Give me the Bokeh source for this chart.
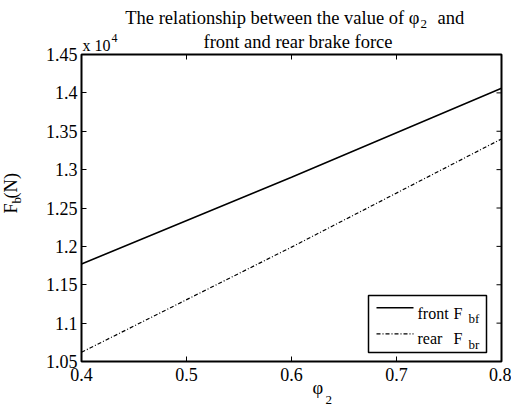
import math
from bokeh.plotting import figure
from bokeh.models import (FixedTicker, Label, BoxAnnotation, Arrow)
from bokeh.embed import file_html
from bokeh.resources import INLINE

# ---- data ----
phi2 = [0.4, 0.6, 0.8]
front_Fbf = [11770, 12900, 14060]
rear_Fbr = [10620, 11990, 13400]

x_ticks = [0.4, 0.5, 0.6, 0.7, 0.8]
y_ticks = [10500, 11000, 11500, 12000, 12500, 13000, 13500, 14000, 14500]
y_tick_labels = ["1.05", "1.1", "1.15", "1.2", "1.25", "1.3", "1.35", "1.4", "1.45"]

FONT = "Liberation Serif"
TICK_FS = "18px"
FS = "18.5px"
SUB = "13px"
X0, X1 = 0.4, 0.8
Y0, Y1 = 10500, 14500

p = figure(frame_width=420, frame_height=307,
           x_range=(X0, X1), y_range=(Y0, Y1),
           output_backend="svg", toolbar_location=None,
           min_border_left=81, min_border_right=10,
           min_border_top=54, min_border_bottom=51)
p.background_fill_color = "white"
p.border_fill_color = "white"
p.xgrid.visible = False
p.ygrid.visible = False
p.outline_line_color = "black"
p.outline_line_width = 2
p.outline_line_alpha = 1

bottom_ax = p.below[0]
left_ax = p.left[0]
bottom_ax.ticker = FixedTicker(ticks=x_ticks)
left_ax.ticker = FixedTicker(ticks=y_ticks)
left_ax.major_label_overrides = dict(zip(y_ticks, y_tick_labels))

for ax in [bottom_ax, left_ax]:
    ax.axis_line_color = None
    ax.major_tick_in = 5
    ax.major_tick_out = 0
    ax.major_tick_line_color = "black"
    ax.major_tick_line_width = 1
    ax.minor_tick_line_color = None
    ax.major_label_text_font = FONT
    ax.major_label_text_font_size = TICK_FS
    ax.major_label_text_color = "black"
    ax.major_label_standoff = 4
bottom_ax.major_label_standoff = 6

# inward ticks on the top and right edges (half of each dash is clipped by the frame)
p.scatter(x_ticks, [Y1] * len(x_ticks), marker="dash", size=10, angle=math.pi / 2,
          line_color="black", line_width=1)
p.scatter([X1] * len(y_ticks), y_ticks, marker="dash", size=10,
          line_color="black", line_width=1)

# ---- data lines ----
p.line(phi2, front_Fbf, line_color="black", line_width=1.5)
p.line(phi2, rear_Fbr, line_color="black", line_width=1.2, line_dash="4 2 1 2")


def lab(text, dx, dy, size=FS, align="left", angle=0.0, place="below", ay=Y1):
    # texts outside the frame live in a side panel so they are not clipped;
    # their position is given from a corner of the frame (data units + pixel offsets)
    lbl = Label(x=X0, y=ay, x_offset=dx, y_offset=dy, text=text,
                text_font=FONT, text_font_size=size, text_color="black",
                text_align=align, text_baseline="middle", angle=angle)
    p.add_layout(lbl, place)

# title (offsets from the frame's top-left corner)
lab("The relationship between the value of \u03c6", 338, 37, align="right")
lab("2", 339, 30.3, size=SUB)
lab("and", 356, 37)
lab("front and rear brake force", 216.5, 13, align="center")
# exponent
lab("x 10", 1, 9.5, size="16px")
lab("4", 30, 17, size="12px")
# x label (offsets from the frame's bottom-left corner)
lab("\u03c6", 231, -26, ay=Y0)
lab("2", 244, -38.7, size=SUB, ay=Y0)
# y label (rotated)
lab("F (N)", -70.6, 148, angle=math.pi / 2, place="left", ay=Y0)
lab("b", -64.8, 158, size=SUB, angle=math.pi / 2, place="left", ay=Y0)

# legend
p.add_layout(BoxAnnotation(left=287, right=405, bottom=9, top=66,
                           left_units="screen", right_units="screen",
                           bottom_units="screen", top_units="screen",
                           fill_color="white", fill_alpha=1,
                           line_color="black", line_width=1.5, line_alpha=1))
p.add_layout(Arrow(x_start=295, y_start=53.7, x_end=332, y_end=53.7,
                   start_units="screen", end_units="screen", end=None,
                   line_color="black", line_width=1.5))
p.add_layout(Arrow(x_start=295, y_start=27.7, x_end=332, y_end=27.7,
                   start_units="screen", end_units="screen", end=None,
                   line_color="black", line_width=1.2, line_dash="4 2 1 2"))


def leg(text, dx, dy, size="16px"):
    p.add_layout(Label(x=dx, y=dy, x_units="screen", y_units="screen", text=text,
                       text_font=FONT, text_font_size=size, text_color="black",
                       text_align="left", text_baseline="alphabetic"))

leg("front", 336, 48.5)
leg("F", 372, 48.5)
leg("bf", 387, 43, size=SUB)
leg("rear", 336, 23)
leg("F", 372, 23)
leg("br", 387, 17, size=SUB)

open("out.html", "w").write(file_html(p, INLINE))
